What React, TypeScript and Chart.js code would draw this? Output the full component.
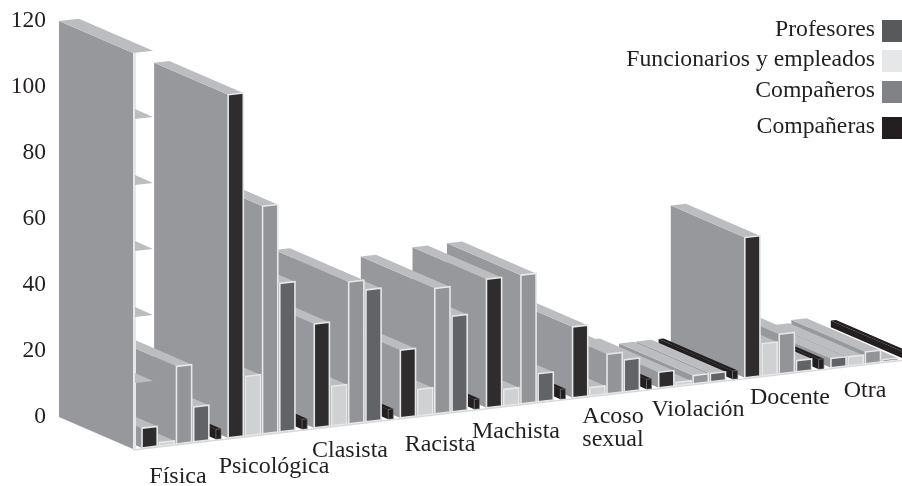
import React, { useEffect, useRef } from "react";
import { Chart, registerables } from "chart.js";

Chart.register(...registerables);

const categories = ["Física", "Psicológica", "Clasista", "Racista", "Machista", "Acoso sexual", "Violación", "Docente", "Otra"];
const companeras = [6, 104, 31.5, 20.5, 39, 21.5, 4.7, 42.5, 2.8];
const funcionarios = [1, 18, 12, 8, 5, 2.5, 1, 9.7, 2.7];
const companeros = [23.5, 69, 43, 38, 39, 12, 2.5, 12, 3.6];
const profesores = [10.6, 45, 40, 29, 8.5, 9.7, 2.5, 3.4, 0.6];
const sinEtiqueta = [3, 3, 3, 3, 3, 3, 2.5, 3, 2];
const yTicks = [0, 20, 40, 60, 80, 100, 120];

const legendOrder = ["Profesores", "Funcionarios y empleados", "Compañeros", "Compañeras"];
const legendSwatches = ["#58595b", "#e6e7e8", "#808285", "#231f20"];

const BLACK = "#2e2c2d";
const DARK = "#626366";
const LIGHT = "#d0d1d3";
const MID = "#939497";
const SIDE = "#97989b";
const TOP = "#bcbdc0";
const EDGE = "#e6e7e8";
const INK = "#231f20";
const FONT = '"Liberation Serif", serif';

const AXIS_LEFT = 141;
const WALL_X = 133;
const DEPTH_X = -74;
const DEPTH_Y = -32;
const FLOOR_SLOPE = 0.1163;
const floorY = (x: number) => 447 - (x - 150) * FLOOR_SLOPE;

// centre x, centre y of every category label
const labelAnchors = [
  [178, 477], [274, 467], [350, 451], [440, 445], [516, 432],
  [613, 417], [698, 410], [790, 398], [865, 391],
];

const quad = (ctx: CanvasRenderingContext2D, pts: number[][], fill: string) => {
  ctx.beginPath();
  pts.forEach((p, i) => (i ? ctx.lineTo(p[0], p[1]) : ctx.moveTo(p[0], p[1])));
  ctx.closePath();
  ctx.fillStyle = fill;
  ctx.fill();
};

const prismPlugin = {
  id: "prism",
  beforeDatasetsDraw(chart: any) {
    const { ctx, scales } = chart;
    const zero = scales.y.getPixelForValue(0);
    const shear = (x: number) => floorY(x) - zero;
    ctx.save();
    const count = chart.data.labels.length;
    for (let i = count - 1; i >= 0; i--) {
      for (let d = chart.data.datasets.length - 1; d >= 0; d--) {
        const ds = chart.data.datasets[d];
        const el = chart.getDatasetMeta(d).data[i];
        const color = Array.isArray(ds.backgroundColor) ? ds.backgroundColor[i] : ds.backgroundColor;
        const ridge = !!ds.ridge;
        const l = el.x - el.width / 2;
        const r = el.x + el.width / 2;
        const fl = [l, el.y + shear(l)];
        const fr = [r, el.y + shear(r)];
        const bl = [l, el.base + shear(l)];
        const br = [r, el.base + shear(r)];
        const back = (p: number[]) => [p[0] + DEPTH_X, p[1] + DEPTH_Y];
        quad(ctx, [fl, back(fl), back(bl), bl], ridge ? INK : SIDE);
        quad(ctx, [fl, fr, back(fr), back(fl)], ridge ? INK : TOP);
        quad(ctx, [fl, fr, br, bl], color);
        ctx.beginPath();
        ctx.moveTo(fl[0], fl[1]);
        ctx.lineTo(fr[0], fr[1]);
        ctx.lineTo(br[0], br[1]);
        ctx.lineTo(bl[0], bl[1]);
        ctx.closePath();
        ctx.strokeStyle = ridge ? "#77787b" : EDGE;
        ctx.lineWidth = ridge ? 0.6 : 1.6;
        ctx.stroke();
      }
    }

    // axis wall, drawn from the value scale
    const yMax = scales.y.getPixelForValue(yTicks[yTicks.length - 1]);
    const s = shear(WALL_X);
    const wallTop = yMax + s;
    const wallBase = zero + s;
    const frontR = WALL_X + 20;
    const frontRTop = yMax + shear(frontR);
    quad(ctx, [[WALL_X, wallTop], [WALL_X + DEPTH_X, wallTop + DEPTH_Y], [WALL_X + DEPTH_X, wallBase + DEPTH_Y], [WALL_X, wallBase]], SIDE);
    quad(ctx, [[WALL_X, wallTop], [frontR, frontRTop], [frontR + DEPTH_X, frontRTop + DEPTH_Y], [WALL_X + DEPTH_X, wallTop + DEPTH_Y]], TOP);
    ctx.fillStyle = EDGE;
    ctx.fillRect(WALL_X, wallTop, 3, wallBase - wallTop);
    yTicks.slice(1, -1).forEach((t) => {
      const y = scales.y.getPixelForValue(t) + s;
      quad(ctx, [[WALL_X + 2, y], [WALL_X + 2, y - 10], [frontR, y - 2]], TOP);
    });

    // front edge of the floor
    const right = chart.width;
    ctx.beginPath();
    ctx.moveTo(WALL_X, floorY(WALL_X) + 1);
    ctx.lineTo(right, floorY(right) + 1);
    ctx.strokeStyle = "#d8d9da";
    ctx.lineWidth = 1.4;
    ctx.stroke();

    // category labels
    ctx.fillStyle = INK;
    ctx.font = `24px ${FONT}`;
    ctx.textAlign = "center";
    ctx.textBaseline = "middle";
    chart.data.labels.forEach((label: string, i: number) => {
      const [x, y] = labelAnchors[i];
      const words = label === "Acoso sexual" ? label.split(" ") : [label];
      words.forEach((w, k) => ctx.fillText(w, x, y + k * 23));
    });

    // legend
    ctx.font = `23.7px ${FONT}`;
    ctx.textAlign = "right";
    const swatchY = [20, 50, 81, 117];
    legendOrder.forEach((name, i) => {
      ctx.fillStyle = legendSwatches[i];
      ctx.fillRect(882, swatchY[i], 20, 22);
      ctx.fillStyle = INK;
      ctx.fillText(name, 875, swatchY[i] + 10);
    });
    ctx.restore();
    return false;
  },
};

export default function App() {
  const ref = useRef<HTMLCanvasElement>(null);
  useEffect(() => {
    document.body.style.margin = "0";
    const slot = { barPercentage: 0.88, categoryPercentage: 1 };
    const chart = new Chart(ref.current!, {
      type: "bar",
      data: {
        labels: categories,
        datasets: [
          { label: "Compañeras", data: companeras, backgroundColor: categories.map((_, i) => (i === categories.length - 1 ? DARK : BLACK)), ...slot },
          { label: "Funcionarios y empleados", data: funcionarios, backgroundColor: LIGHT, ...slot },
          { label: "Compañeros", data: companeros, backgroundColor: MID, ...slot },
          { label: "Profesores", data: profesores, backgroundColor: DARK, ...slot },
          { label: "Sin etiqueta", data: sinEtiqueta, backgroundColor: INK, ridge: true, barPercentage: 0.3, categoryPercentage: 1 } as any,
        ],
      },
      options: {
        responsive: false,
        animation: false,
        layout: { padding: { top: 21, bottom: 69, left: 0, right: 0 } },
        plugins: { legend: { display: false }, tooltip: { enabled: false } },
        scales: {
          x: { display: false, grid: { display: false } },
          y: {
            min: 0,
            max: 120,
            afterBuildTicks: (s: any) => { s.ticks = yTicks.map((value) => ({ value })); },
            afterFit: (s: any) => { s.width = AXIS_LEFT; s.paddingTop = 0; s.paddingBottom = 0; },
            border: { display: false },
            grid: { display: false, drawTicks: false },
            ticks: { padding: 95, color: INK, font: { family: FONT, size: 23.5 } },
          },
        },
      },
      plugins: [prismPlugin],
    } as any);
    return () => chart.destroy();
  }, []);
  return (
    <div style={{ width: 902, height: 486, overflow: "hidden" }}>
      <canvas ref={ref} width={916} height={486} style={{ display: "block" }} />
    </div>
  );
}
